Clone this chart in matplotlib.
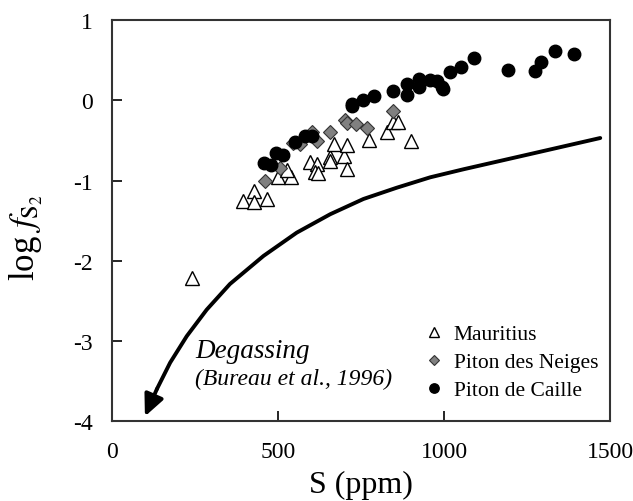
import matplotlib
matplotlib.use("Agg")
import matplotlib.pyplot as plt

plt.rcParams['font.family'] = ['Liberation Serif', 'DejaVu Serif']
plt.rcParams['mathtext.fontset'] = 'stix'

# Mauritius
mau_s = [240, 395, 428, 428, 466, 500, 538, 526, 596, 617, 611, 620, 657, 657,
         699, 707, 669, 707, 774, 827, 846, 861, 901]
mau_f = [-2.22, -1.26, -1.13, -1.27, -1.23, -0.96, -0.96, -0.87, -0.77, -0.79,
         -0.89, -0.91, -0.71, -0.76, -0.70, -0.86, -0.54, -0.56, -0.50, -0.40,
         -0.27, -0.27, -0.51]
# Piton des Neiges
pdn_s = [461, 506, 546, 566, 601, 617, 657, 702, 707, 735, 767, 845]
pdn_f = [-1.01, -0.84, -0.53, -0.54, -0.39, -0.51, -0.39, -0.25, -0.28, -0.30,
         -0.35, -0.13]
# Piton de Caille
pdc_s = [458, 478, 494, 514, 551, 581, 602, 722, 723, 757, 789, 845, 887, 887,
         923, 923, 958, 978, 993, 998, 1018, 1050, 1090, 1191, 1274, 1291, 1333,
         1392]
pdc_f = [-0.78, -0.81, -0.66, -0.68, -0.52, -0.45, -0.44, -0.07, -0.04, 0.01,
         0.05, 0.11, 0.20, 0.07, 0.26, 0.17, 0.25, 0.24, 0.17, 0.14, 0.35, 0.41,
         0.53, 0.38, 0.36, 0.48, 0.62, 0.58]
# Degassing curve (Bureau et al., 1996)
deg_s = [1470, 1259, 1058, 958, 857, 757, 657, 556, 456, 355, 285, 225, 175,
         135, 99]
deg_f = [-0.47, -0.67, -0.86, -0.96, -1.09, -1.23, -1.42, -1.65, -1.94, -2.29,
         -2.61, -2.94, -3.27, -3.60, -3.94]

fig = plt.figure(figsize=(6.33, 5.02), dpi=100)
ax = fig.add_axes([0.177, 0.159, 0.787, 0.799])

ax.plot(mau_s, mau_f, linestyle='none', marker='^', markersize=10,
        markerfacecolor='white', markeredgecolor='black', markeredgewidth=1.0,
        label='Mauritius', zorder=3)
ax.plot(pdn_s, pdn_f, linestyle='none', marker='D', markersize=7,
        markerfacecolor='#808080', markeredgecolor='#333333', markeredgewidth=0.8,
        label='Piton des Neiges', zorder=4)
ax.plot(pdc_s, pdc_f, linestyle='none', marker='o', markersize=9,
        markerfacecolor='black', markeredgecolor='black',
        label='Piton de Caille', zorder=5)

ax.plot(deg_s[:-1], deg_f[:-1], color='black', linewidth=2.8,
        solid_capstyle='round', solid_joinstyle='round')
ax.annotate('', xy=(deg_s[-1], deg_f[-1]), xytext=(deg_s[-2], deg_f[-2]),
            arrowprops=dict(arrowstyle='-|>,head_length=1.3,head_width=0.6',
                            color='black', linewidth=2.8, shrinkA=0, shrinkB=0))

ax.text(250, -3.20, 'Degassing', fontsize=19.5, style='italic')
ax.text(250, -3.54, '(Bureau et al., 1996)', fontsize=17, style='italic')

ax.set_xlim(0, 1500)
ax.set_ylim(-4, 1)
ax.set_xticks([0, 500, 1000, 1500])
ax.set_yticks([-4, -3, -2, -1, 0, 1])
ax.set_yticklabels(['-4', '-3', '-2', '-1', '0', '1'])
ax.tick_params(direction='in', length=7, width=1.2, labelsize=17, pad=14,
               top=False, right=False)
for sp in ax.spines.values():
    sp.set_linewidth(1.5)
    sp.set_color('#333333')

ax.set_xlabel('S (ppm)', fontsize=23, labelpad=6)
ax.set_ylabel(r'log $f_{\mathrm{S}_2}$', fontsize=25)
ax.yaxis.set_label_coords(-0.135, 0.46)

leg = ax.legend(loc='lower right', bbox_to_anchor=(1.006, 0.015), frameon=False,
                fontsize=15.5, handlelength=0.8, handletextpad=0.5,
                labelspacing=0.36, borderpad=0.2)
for h in leg.legend_handles:
    h.set_markersize(h.get_markersize() * 0.75)

fig.savefig('out.png', dpi=100)
